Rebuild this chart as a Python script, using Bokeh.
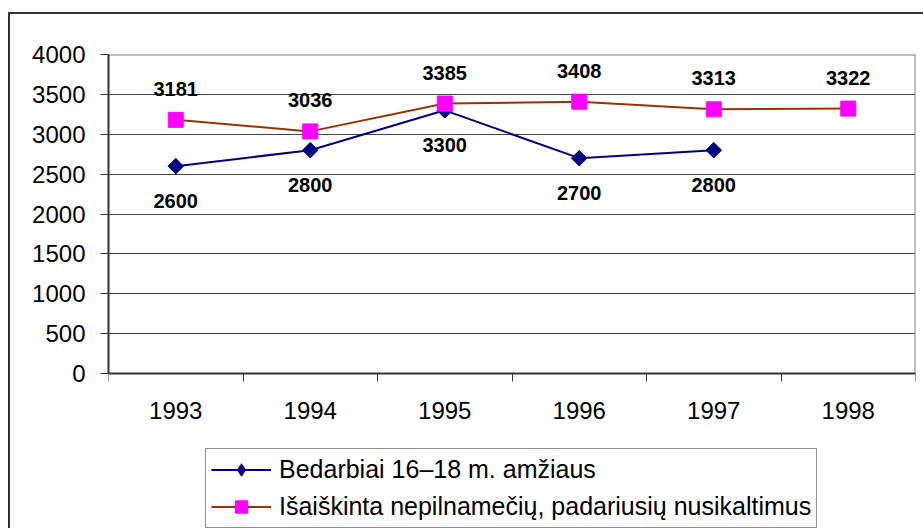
import math
from bokeh.plotting import figure
from bokeh.models import (Range1d, FixedTicker, ColumnDataSource, LabelSet, Legend,
                          LegendItem, LinearAxis)
from bokeh.core.properties import value
from bokeh.embed import file_html
from bokeh.resources import INLINE

years = ["1993", "1994", "1995", "1996", "1997", "1998"]
bedarbiai = [2600, 2800, 3300, 2700, 2800, float("nan")]
isaiskinta = [3181, 3036, 3385, 3408, 3313, 3322]
y_ticks = [0, 500, 1000, 1500, 2000, 2500, 3000, 3500, 4000]
name_a = "Bedarbiai 16\u201318 m. am\u017eiaus"
name_b = "I\u0161ai\u0161kinta nepilname\u010di\u0173, padariusi\u0173 nusikaltimus"

FONT = "Liberation Sans"
xs = [i + 0.5 for i in range(len(years))]

# layout: the frame runs from the plot top down to the page bottom so the legend fits
FRAME_H = 476   # px, frame height
PLOT_H = 319    # px, height of the 0..4000 value area
y_lo = -y_ticks[-1] * (FRAME_H - PLOT_H) / PLOT_H

p = figure(width=915, height=516, output_backend="svg", toolbar_location=None,
           x_range=Range1d(0, len(years)), y_range=Range1d(y_lo, y_ticks[-1]),
           min_border_left=98, min_border_right=10, min_border_top=40, min_border_bottom=0)
p.styles = {"margin-left": "8px", "margin-top": "12px", "box-sizing": "border-box",
            "border-left": "2px solid #333333", "border-top": "2px solid #333333"}
p.background_fill_color = "white"
p.border_fill_color = "white"
p.outline_line_color = None

# x axis drawn at value 0
p.xaxis.fixed_location = 0
p.xaxis.ticker = FixedTicker(ticks=xs, minor_ticks=list(range(len(years) + 1)))
p.xaxis.major_label_overrides = {x: y for x, y in zip(xs, years)}
p.xaxis.major_tick_out = 0
p.xaxis.major_tick_in = 0
p.xaxis.minor_tick_out = 8
p.xaxis.minor_tick_in = 0
p.xaxis.minor_tick_line_color = "#333333"
p.xaxis.major_label_standoff = 20
p.yaxis.ticker = FixedTicker(ticks=y_ticks)
p.yaxis.bounds = (y_ticks[0], y_ticks[-1])
p.yaxis.major_tick_out = 8
p.yaxis.major_tick_in = 0
p.yaxis.minor_tick_line_color = None
p.yaxis.major_label_standoff = 15
for ax in (p.xaxis, p.yaxis):
    ax.axis_line_color = "#333333"
    ax.axis_line_width = 2
    ax.major_tick_line_color = "#333333"
    ax.major_label_text_font = FONT
    ax.major_label_text_font_size = "24px"
    ax.major_label_text_color = "black"
p.xgrid.visible = False
p.ygrid.ticker = FixedTicker(ticks=y_ticks)
p.ygrid.grid_line_color = "#444444"
p.ygrid.grid_line_width = 1

# grey plot-area border on the right and top
right_edge = LinearAxis(ticker=FixedTicker(ticks=[]), fixed_location=len(years),
                        bounds=(y_ticks[0], y_ticks[-1]), axis_line_color="#808080",
                        axis_line_width=2, major_tick_out=0, major_tick_in=0,
                        minor_tick_out=0, minor_tick_in=0)
top_edge = LinearAxis(ticker=FixedTicker(ticks=[]), fixed_location=y_ticks[-1],
                      axis_line_color="#808080", axis_line_width=2, major_tick_out=0,
                      major_tick_in=0, minor_tick_out=0, minor_tick_in=0)
p.add_layout(right_edge, "right")
p.add_layout(top_edge, "above")

src_a = ColumnDataSource(dict(x=xs, y=bedarbiai))
src_b = ColumnDataSource(dict(x=xs, y=isaiskinta))

la = p.line("x", "y", source=src_a, line_color="#000080", line_width=2)
ma_leg = p.scatter("x", "y", source=src_a, marker="diamond", size=15,
                   fill_color="#000080", line_color="#000080")
p.scatter("x", "y", source=src_a, marker="square", angle=math.pi / 4, size=11,
          fill_color="#000080", line_color="#000080")
lb = p.line("x", "y", source=src_b, line_color="#993300", line_width=2)
mb = p.scatter("x", "y", source=src_b, marker="square", size=15,
               fill_color="#FF00FF", line_color="#FF00FF")

lab_a = ColumnDataSource(dict(x=[x for x, v in zip(xs, bedarbiai) if not math.isnan(v)],
                              y=[v for v in bedarbiai if not math.isnan(v)],
                              t=[str(int(v)) for v in bedarbiai if not math.isnan(v)]))
lab_b = ColumnDataSource(dict(x=xs, y=isaiskinta, t=[str(v) for v in isaiskinta]))
for src, off in ((lab_a, -35), (lab_b, 31)):
    p.add_layout(LabelSet(x="x", y="y", text="t", source=src, y_offset=off,
                          text_align="center", text_baseline="middle",
                          text_font=value(FONT), text_font_size="20px",
                          text_font_style="bold", text_color="black"))

legend = Legend(items=[LegendItem(label=name_a, renderers=[la, ma_leg]),
                       LegendItem(label=name_b, renderers=[lb, mb])],
                location=(97, 2))
legend.label_text_font = FONT
legend.label_text_font_size = "25px"
legend.label_text_color = "black"
legend.label_height = 31
legend.glyph_height = 31
legend.glyph_width = 60
legend.spacing = 6
legend.padding = 5
legend.margin = 0
legend.label_standoff = 8
legend.border_line_color = "#222222"
legend.border_line_width = 1.5
legend.background_fill_color = "white"
legend.background_fill_alpha = 1
p.add_layout(legend, "center")

open("out.html", "w").write(file_html(p, INLINE))
